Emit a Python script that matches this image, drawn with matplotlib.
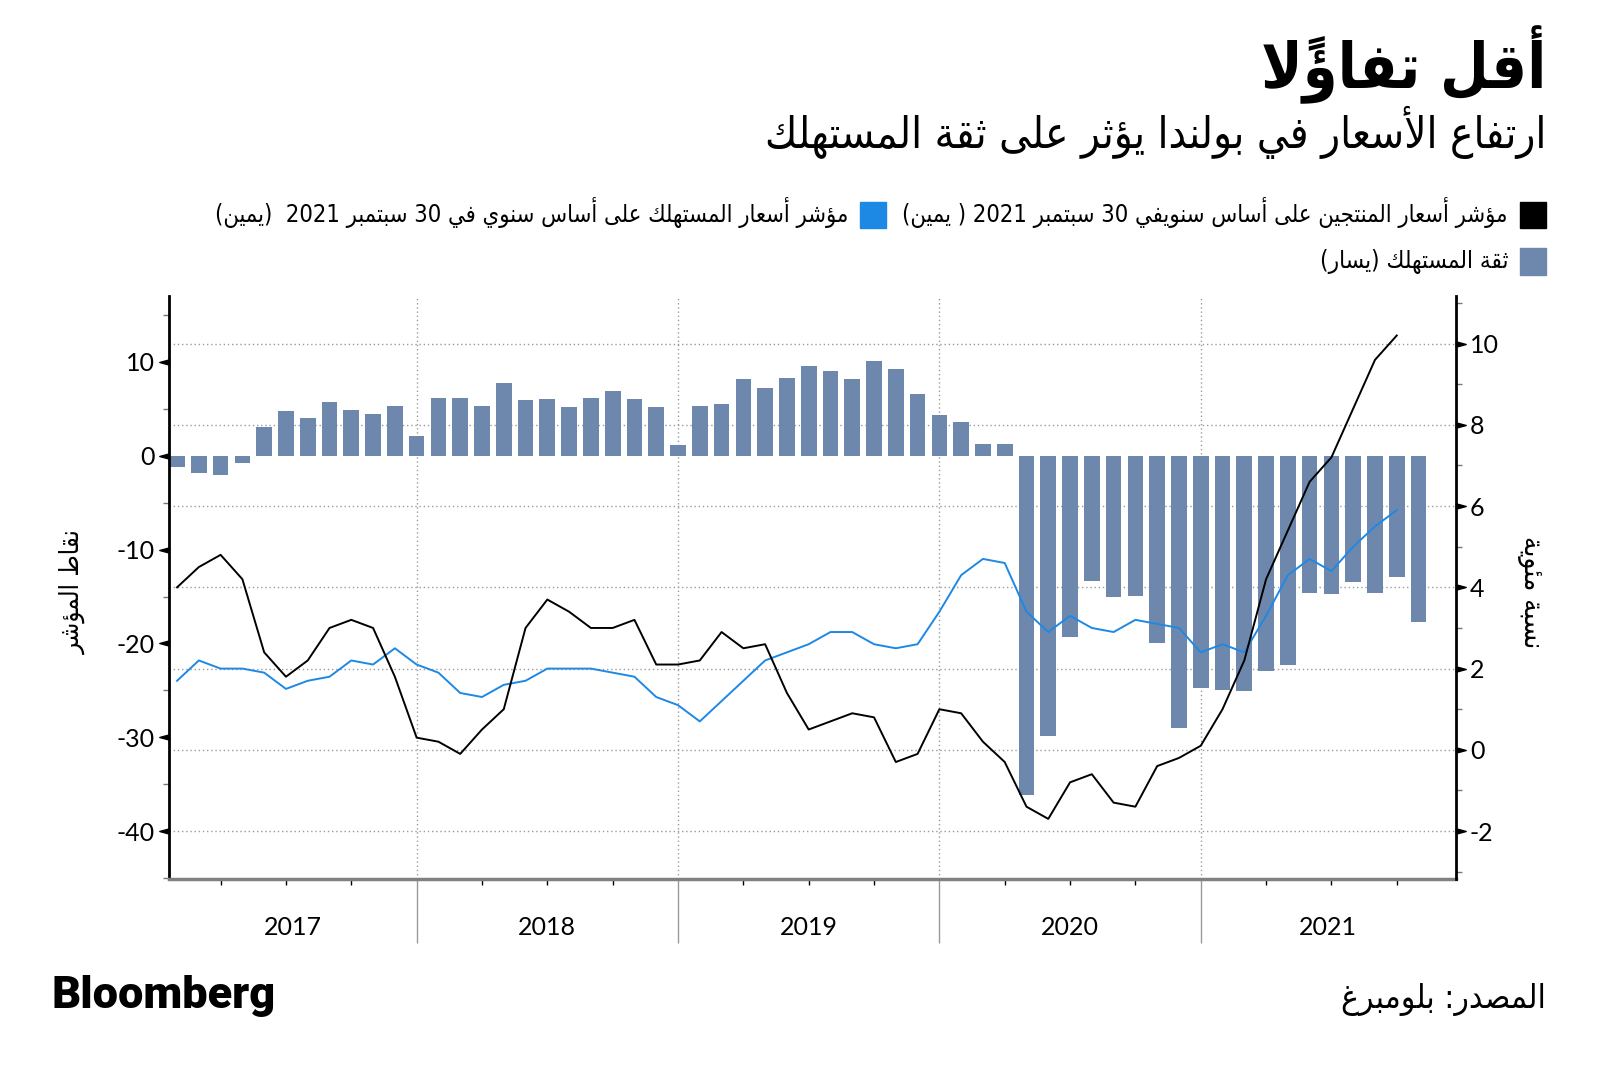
import numpy as np
import matplotlib
matplotlib.use('Agg')
import matplotlib.pyplot as plt
from matplotlib.path import Path
from matplotlib.patches import Rectangle

# ---------------- data ----------------
years = [2017, 2018, 2019, 2020, 2021]

# consumer confidence (left axis), monthly Jan 2017 - Oct 2021
consumer_confidence = [-1.2, -1.8, -2.0, -0.8, 3.1, 4.8, 4.0, 5.7, 4.9, 4.5, 5.3, 2.1,
                       6.2, 6.2, 5.3, 7.8, 5.9, 6.1, 5.2, 6.2, 6.9, 6.1, 5.2, 1.2,
                       5.3, 5.5, 8.2, 7.2, 8.3, 9.6, 9.0, 8.2, 10.1, 9.2, 6.6, 4.3,
                       3.6, 1.3, 1.3, -36.2, -29.9, -19.3, -13.3, -15.1, -14.9, -19.9, -29.0, -24.7,
                       -25.0, -25.1, -22.9, -22.3, -14.6, -14.7, -13.4, -14.6, -12.9, -17.7]

# producer prices y/y (right axis), Jan 2017 - Sep 2021
ppi = [4.0, 4.5, 4.8, 4.2, 2.4, 1.8, 2.2, 3.0, 3.2, 3.0, 1.8, 0.3,
       0.2, -0.1, 0.5, 1.0, 3.0, 3.7, 3.4, 3.0, 3.0, 3.2, 2.1, 2.1,
       2.2, 2.9, 2.5, 2.6, 1.4, 0.5, 0.7, 0.9, 0.8, -0.3, -0.1, 1.0,
       0.9, 0.2, -0.3, -1.4, -1.7, -0.8, -0.6, -1.3, -1.4, -0.4, -0.2, 0.1,
       1.0, 2.2, 4.2, 5.4, 6.6, 7.2, 8.4, 9.6, 10.2]

# consumer prices y/y (right axis), Jan 2017 - Sep 2021
cpi = [1.7, 2.2, 2.0, 2.0, 1.9, 1.5, 1.7, 1.8, 2.2, 2.1, 2.5, 2.1,
       1.9, 1.4, 1.3, 1.6, 1.7, 2.0, 2.0, 2.0, 1.9, 1.8, 1.3, 1.1,
       0.7, 1.2, 1.7, 2.2, 2.4, 2.6, 2.9, 2.9, 2.6, 2.5, 2.6, 3.4,
       4.3, 4.7, 4.6, 3.4, 2.9, 3.3, 3.0, 2.9, 3.2, 3.1, 3.0, 2.4,
       2.6, 2.4, 3.3, 4.3, 4.7, 4.4, 5.0, 5.5, 5.9]

left_ticks = [-40, -30, -20, -10, 0, 10]
left_minor = [-45, -35, -25, -15, -5, 5, 15]
right_ticks = [-2, 0, 2, 4, 6, 8, 10]
right_minor = [-3, -1, 1, 3, 5, 7, 9, 11]

title = "أقل تفاؤلاً"
subtitle = "ارتفاع الأسعار في بولندا يؤثر على ثقة المستهلك"
legend_ppi = "مؤشر أسعار المنتجين على أساس سنويفي 30 سبتمبر 2021 ( يمين)"
legend_cpi = "مؤشر أسعار المستهلك على أساس سنوي في 30 سبتمبر 2021  (يمين)"
legend_cc = "ثقة المستهلك (يسار)"
ylabel_left = "نقاط المؤشر"
ylabel_right = "نسبة مئوية"
source = "المصدر: بلومبرغ"

# ---------------- Arabic shaping (matplotlib has no shaping / bidi) ----------------
_FORM_TABLE = [('\u0621', 0xFE80, 1), ('\u0622', 0xFE81, 2), ('\u0623', 0xFE83, 2),
               ('\u0624', 0xFE85, 2), ('\u0625', 0xFE87, 2), ('\u0626', 0xFE89, 4),
               ('\u0627', 0xFE8D, 2), ('\u0628', 0xFE8F, 4), ('\u0629', 0xFE93, 2),
               ('\u062A', 0xFE95, 4), ('\u062B', 0xFE99, 4), ('\u062C', 0xFE9D, 4),
               ('\u062D', 0xFEA1, 4), ('\u062E', 0xFEA5, 4), ('\u062F', 0xFEA9, 2),
               ('\u0630', 0xFEAB, 2), ('\u0631', 0xFEAD, 2), ('\u0632', 0xFEAF, 2),
               ('\u0633', 0xFEB1, 4), ('\u0634', 0xFEB5, 4), ('\u0635', 0xFEB9, 4),
               ('\u0636', 0xFEBD, 4), ('\u0637', 0xFEC1, 4), ('\u0638', 0xFEC5, 4),
               ('\u0639', 0xFEC9, 4), ('\u063A', 0xFECD, 4), ('\u0641', 0xFED1, 4),
               ('\u0642', 0xFED5, 4), ('\u0643', 0xFED9, 4), ('\u0644', 0xFEDD, 4),
               ('\u0645', 0xFEE1, 4), ('\u0646', 0xFEE5, 4), ('\u0647', 0xFEE9, 4),
               ('\u0648', 0xFEED, 2), ('\u0649', 0xFEEF, 2), ('\u064A', 0xFEF1, 4)]
FORMS = {ch: [chr(b + k) for k in range(n)] for ch, b, n in _FORM_TABLE}
LAM_ALEF = {'\u0622': (0xFEF5, 0xFEF6), '\u0623': (0xFEF7, 0xFEF8),
            '\u0625': (0xFEF9, 0xFEFA), '\u0627': (0xFEFB, 0xFEFC)}
MARKS = set(chr(c) for c in range(0x064B, 0x0660)) | {'\u0670'}


def _shape(s):
    clusters = []
    for ch in s:
        if ch in MARKS and clusters:
            clusters[-1][1] += ch
        else:
            clusters.append([ch, ''])
    merged = []
    i = 0
    while i < len(clusters):
        b, m = clusters[i]
        if b == '\u0644' and not m and i + 1 < len(clusters) and clusters[i + 1][0] in LAM_ALEF:
            merged.append(['LA' + clusters[i + 1][0], clusters[i + 1][1]])
            i += 2
        else:
            merged.append([b, m])
            i += 1

    def join_next(b):
        return (not b.startswith('LA')) and b in FORMS and len(FORMS[b]) == 4

    def join_prev(b):
        return b.startswith('LA') or (b in FORMS and len(FORMS[b]) >= 2)

    out = []
    for i, (b, m) in enumerate(merged):
        pj = i > 0 and join_next(merged[i - 1][0]) and join_prev(b)
        nj = i + 1 < len(merged) and join_next(b) and join_prev(merged[i + 1][0])
        if b.startswith('LA'):
            iso, fin = LAM_ALEF[b[2]]
            g = chr(fin if pj else iso)
        elif b in FORMS:
            f = FORMS[b]
            if len(f) == 4:
                g = f[3] if (pj and nj) else f[1] if pj else f[2] if nj else f[0]
            elif len(f) == 2:
                g = f[1] if pj else f[0]
            else:
                g = f[0]
        else:
            g = b
        out.append(g + m)
    return out


def ar(s):
    tokens = []
    for c in _shape(s):
        if c.isdigit() and tokens and tokens[-1].isdigit():
            tokens[-1] += c
        else:
            tokens.append(c)
    tokens.reverse()
    return ''.join(tokens).translate(str.maketrans('()', ')('))


# ---------------- styling ----------------
BAR_COLOR = '#6E88AD'
CPI_COLOR = '#1E88E5'
GRID_COLOR = '#9a9a9a'
AR_FONT = dict(family=['DejaVu Sans'], fontstretch='condensed')
NUM_FONT = ['Lato', 'DejaVu Sans']

W, H = 1600, 1070
fig = plt.figure(figsize=(W / 100, H / 100), dpi=100)


def fx(px):
    return px / W


def fy(py):
    return 1 - py / H


ax = fig.add_axes([fx(169), fy(879), fx(1456) - fx(169), fy(295.7) - fy(879)])
ax2 = ax.twinx()

x_bars = np.arange(1, len(consumer_confidence) + 1)
x_lines = np.arange(1, len(ppi) + 1)

ax.set_xlim(0.63, 59.72)
ax.set_ylim(-45.1, 17.06)
ax2.set_ylim(-3.18, 11.18)

ax.bar(x_bars, consumer_confidence, width=0.72, color=BAR_COLOR, zorder=2)
ax2.plot(x_lines, cpi, color=CPI_COLOR, lw=1.4, zorder=3)
ax2.plot(x_lines, ppi, color='black', lw=1.4, zorder=4)

# horizontal dotted gridlines at the right-axis ticks, drawn behind bars
l0, l1 = ax.get_ylim()
r0, r1 = ax2.get_ylim()
for v in right_ticks:
    ax.axhline(l0 + (v - r0) * (l1 - l0) / (r1 - r0), color=GRID_COLOR,
               lw=1, ls=(0, (1, 2)), zorder=1)

# x axis: year boundaries + quarter ticks
year_starts = [12 * (k + 1) for k in range(len(years) - 1)]
ax.set_xticks(year_starts)
ax.set_xticklabels([])
quarters = [q for q in range(3, 60, 3) if q % 12 != 0]
ax.set_xticks(quarters, minor=True)
ax.tick_params(axis='x', which='major', length=46, width=1, color=GRID_COLOR)
ax.tick_params(axis='x', which='minor', length=4, width=1, color='black')
ax.xaxis.grid(True, which='major', color=GRID_COLOR, lw=1, ls=(0, (1, 2)), zorder=1)

xl0, xl1 = ax.get_xlim()
for k, yr in enumerate(years):
    a = max(12 * k, xl0)
    b = min(12 * (k + 1), xl1)
    ax.text((a + b) / 2, -0.083, str(yr), transform=ax.get_xaxis_transform(),
            ha='center', va='center', fontsize=18, family=NUM_FONT)

# y axes
ax.set_yticks(left_ticks)
ax.set_yticklabels([str(t) for t in left_ticks], family=NUM_FONT, fontsize=18)
ax.set_yticks(left_minor, minor=True)
ax.tick_params(axis='y', which='major', length=0, pad=10)
ax.tick_params(axis='y', which='minor', length=4, width=1, color='#777777')

ax2.set_yticks(right_ticks)
ax2.set_yticklabels([str(t) for t in right_ticks], family=NUM_FONT, fontsize=18)
ax2.set_yticks(right_minor, minor=True)
ax2.tick_params(axis='y', which='major', length=0, pad=10)
ax2.tick_params(axis='y', which='minor', length=4, width=1, color='#777777')

tri_l = Path([(0, 0.27), (-1, 0), (0, -0.27), (0, 0.27)],
             [Path.MOVETO, Path.LINETO, Path.LINETO, Path.CLOSEPOLY])
tri_r = Path([(0, 0.27), (1, 0), (0, -0.27), (0, 0.27)],
             [Path.MOVETO, Path.LINETO, Path.LINETO, Path.CLOSEPOLY])
ax.plot(np.zeros(len(left_ticks)), left_ticks, ls='none', marker=tri_l, ms=14,
        color='black', transform=ax.get_yaxis_transform(), clip_on=False, zorder=6)
ax2.plot(np.ones(len(right_ticks)), right_ticks, ls='none', marker=tri_r, ms=14,
         color='black', transform=ax2.get_yaxis_transform(), clip_on=False, zorder=6)

for s in ['top', 'right']:
    ax.spines[s].set_visible(False)
for s in ['top', 'left', 'bottom']:
    ax2.spines[s].set_visible(False)
ax.spines['left'].set_linewidth(2)
ax.spines['bottom'].set_linewidth(2.5)
ax.spines['bottom'].set_color('#808080')
ax2.spines['right'].set_linewidth(2)

# ---------------- texts ----------------
RX = fx(1546)
fig.text(RX, fy(88), ar(title), ha='right', va='baseline', fontsize=45,
         fontweight='bold', **AR_FONT)
fig.text(RX, fy(148), ar(subtitle), ha='right', va='baseline', fontsize=31.5, **AR_FONT)

fig.add_artist(Rectangle((fx(1520), fy(228.3)), 26 / W, 26.6 / H, color='black',
                         transform=fig.transFigure))
fig.text(fx(1508), fy(222), ar(legend_ppi), ha='right', va='baseline', fontsize=17, **AR_FONT)
fig.add_artist(Rectangle((fx(860), fy(228.3)), 26 / W, 26.6 / H, color=CPI_COLOR,
                         transform=fig.transFigure))
fig.text(fx(848), fy(222), ar(legend_cpi), ha='right', va='baseline', fontsize=17, **AR_FONT)
fig.add_artist(Rectangle((fx(1520), fy(274.5)), 26 / W, 26.6 / H, color=BAR_COLOR,
                         transform=fig.transFigure))
fig.text(fx(1508), fy(268), ar(legend_cc), ha='right', va='baseline', fontsize=17.5, **AR_FONT)

fig.text(fx(73), fy(592), ar(ylabel_left), rotation=90, ha='center', va='center',
         fontsize=18.5, **AR_FONT)
fig.text(fx(1531), fy(592), ar(ylabel_right), rotation=270, ha='center', va='center',
         fontsize=20, **AR_FONT)

fig.text(fx(51), fy(1008), 'Bloomberg', ha='left', va='baseline', fontsize=32.5,
         fontweight='black', family=['Roboto', 'DejaVu Sans'])
fig.text(RX, fy(1008), ar(source), ha='right', va='baseline', fontsize=24, **AR_FONT)

fig.savefig('out.png', dpi=100)
